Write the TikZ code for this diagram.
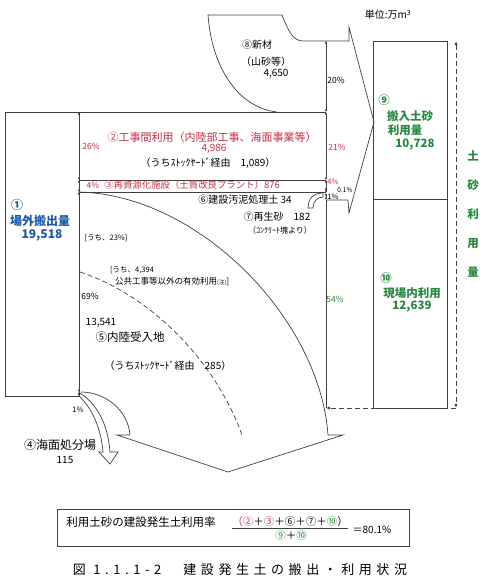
\documentclass[tikz,border=0pt]{standalone}
\usepackage{fontspec}
\setmainfont{Noto Sans CJK JP}
\newfontfamily\capfont[LetterSpace=35]{Noto Sans CJK JP}
\usetikzlibrary{arrows.meta, positioning}
\definecolor{jred}{RGB}{196,48,72}
\definecolor{jblue}{RGB}{28,88,168}
\definecolor{jgreen}{RGB}{38,136,62}

\begin{document}
\begin{tikzpicture}[
  x=1pt, y=-1pt,
  every node/.style={inner sep=0pt, font=\fontsize{10}{12}\selectfont},
  line/.style={draw=black!75, line width=0.7pt},
  dashline/.style={line, dash pattern=on 5pt off 3pt},
  dim/.style={{Latex[length=2.5pt,width=2.6pt]}-{Latex[length=2.5pt,width=2.6pt]}, line width=0.6pt, draw=black!75},
  dasharrow/.style={dashline, -{Latex[length=4pt,width=3pt]}},
  body/.style={font=\fontsize{10}{12}\selectfont},
  head/.style={font=\fontsize{11.5}{13}\selectfont},
  note/.style={font=\fontsize{7.5}{9}\selectfont},
  pct/.style={font=\fontsize{8.5}{10}\selectfont},
  redtext/.style={text=jred},
  bluehead/.style={text=jblue, font=\fontsize{12}{14}\selectfont\bfseries},
  greenhead/.style={text=jgreen, font=\fontsize{11.5}{13}\selectfont\bfseries}
]
\useasboundingbox (0,0) rectangle (487,581);

% === DIMENSION POINTS ===
\coordinate (L0) at (79,112);
\coordinate (L1) at (79,180);
\coordinate (L2) at (79,192);
\coordinate (L3) at (79,392);
\coordinate (L4) at (79,396);
\coordinate (R0) at (326,41);
\coordinate (R1) at (326,112);
\coordinate (R2) at (326,180);
\coordinate (R3) at (326,191);
\coordinate (R4) at (326,193);
\coordinate (R5) at (326,200);
\coordinate (R6) at (326,408);
\coordinate (T0) at (456,41);
\coordinate (T1) at (456,408);

% === SHAPES ===
% left box and bands
\draw[line] (5,112) rectangle (79,396);
\draw[line] (L0) -- (R1);
\draw[line] (L1) -- (R2);
\draw[line] (L2) -- (326,192);

% new material + big arrow into 9
\draw[line] (277,112) .. controls (240,108) and (212,70) .. (208,15) -- (282,15)
  .. controls (290,35) and (294,41) .. (304,41) -- (349,41) -- (349,27) -- (374,122)
  -- (349,213) -- (348,200) -- (R5);

% inland disposal arrow
\draw[line] (L2) .. controls (200,195) and (320,320) .. (328,435) -- (343,435) -- (228,472)
  -- (117,435) -- (130,435) .. controls (128,410) and (105,392) .. (81,392);
\draw[dashline] (80,272) .. controls (150,295) and (215,360) .. (242,435);

% sea disposal arrow
\draw[line] (80,393) .. controls (98,405) and (108,425) .. (110,452) -- (118,452) -- (110,464)
  -- (99,452) -- (103,452) .. controls (101,428) and (92,408) .. (79,396);

% sludge / recycled sand
\draw[line] (308,208) .. controls (308,198) and (314,193) .. (323,193) -- (323,197)
  .. controls (318,197) and (313,201) .. (313,208) -- cycle;

% boxes 9 and 10
\draw[line] (373,41) rectangle (447,408);
\draw[line] (373,199) -- (447,199);

% === DIMENSION LINES ===
\draw[dim] (L0) -- (L1);
\draw[dim] (L1) -- (L2);
\draw[dim] (L2) -- (L3);
\draw[dim] (L3) -- (L4);
\draw[dim] (R0) -- (R1);
\draw[dim] (R1) -- (R2);
\draw[dim] (R2) -- (R3);
\draw[dim] (R3) -- (R4);
\draw[dim] (R4) -- (R5);
\draw[line] (R5) -- (R6);
\draw[dashline, {Latex[length=4pt,width=3pt]}-{Latex[length=4pt,width=3pt]}] (T0) -- (T1);
\draw[dasharrow] (T1) -- (R6);

% === LABELS ===
\node (unit) at (388,15) {単位:万m\textsuperscript{3}};

\node[body] (n8) at (257,45) {⑧新材};
\node[body] (n8a) at (266,62) {（山砂等）};
\node[body] (n8v) at (276,74) {4,650};

\node[redtext, font=\fontsize{11}{13}\selectfont] (n2) at (212,137) {②工事間利用（内陸部工事、海面事業等）};
\node[redtext, body] (n2v) at (214,149) {4,986};
\node[body] (n2s) at (208,163) {（うちｽﾄｯｸﾔｰﾄﾞ経由　1,089）};
\node[redtext, pct] (p26) at (91,146) {26\%};

\node[redtext, pct] (p4a) at (93,185) {4\%};
\node[redtext, font=\fontsize{9.4}{11}\selectfont] (n3) at (192,185) {③再資源化施設（土質改良プラント）876};

\node[body] (n6) at (245,200) {⑥建設汚泥処理土 34};
\node[body] (n7) at (277,217) {⑦再生砂　182};
\node[font=\fontsize{8}{9}\selectfont] (n7s) at (280,230) {（ｺﾝｸﾘｰﾄ塊より）};

\node[bluehead] (n1) at (17,205) {①};
\node[bluehead] (n1a) at (40,221) {場外搬出量};
\node[bluehead] (n1v) at (42,235) {19,518};

\node[note] (u23) at (106,238) {[うち、23\%]};
\node[note, anchor=west] (u4394) at (110,270) {[うち、4,394};
\node[font=\fontsize{8.5}{10}\selectfont, anchor=west] (u4394s) at (115,282) {公共工事等以外の有効利用{\fontsize{5.5}{6}\selectfont(注)}]};

\node[pct] (p69) at (90,296) {69\%};
\node[body] (n5v) at (101,323) {13,541};
\node[head] (n5) at (130,337) {⑤内陸受入地};
\node[body] (n5s) at (168,366) {（うちｽﾄｯｸﾔｰﾄﾞ経由　285）};

\node[note] (p1a) at (78,410) {1\%};
\node[font=\fontsize{12}{14}\selectfont] (n4) at (60,445) {④海面処分場};
\node[body] (n4v) at (65,460) {115};

\node[pct] (p20) at (336,80) {20\%};
\node[redtext, pct] (p21) at (337,147) {21\%};
\node[redtext, note] (p4b) at (333,182) {4\%};
\node[font=\fontsize{6.5}{7}\selectfont] (p01) at (345,190) {0.1\%};
\node[note] (p1b) at (333,197) {1\%};
\node[text=jgreen, pct] (p54) at (335,299) {54\%};

\node[greenhead] (n9) at (384,100) {⑨};
\node[greenhead] (n9a) at (410,116) {搬入土砂};
\node[greenhead] (n9b) at (405,130) {利用量};
\node[greenhead] (n9v) at (415,145) {10,728};

\node[greenhead] (n10) at (386,278) {⑩};
\node[greenhead] (n10a) at (412,293) {現場内利用};
\node[greenhead] (n10v) at (412,307) {12,639};

\node[greenhead, align=center, font=\fontsize{11.5}{29}\selectfont\bfseries] (nsum) at (473,214) {土\\砂\\利\\用\\量};

% === FORMULA ===
\draw[line] (57,509) rectangle (409,546);
\node[font=\fontsize{11.5}{13}\selectfont] (ftxt) at (141,522) {利用土砂の建設発生土利用率};
\node[font=\fontsize{10.5}{12}\selectfont] (fnum) at (290,522)
  {{\color{jred}（②}＋{\color{jred}③}＋⑥＋⑦＋{\color{jgreen}⑩}）};
\draw[line, line width=0.6pt] ([yshift=-1.5pt]fnum.south west) -- ([yshift=-1.5pt]fnum.south east);
\node[font=\fontsize{10.5}{12}\selectfont] (fden) at (291,536) {{\color{jgreen}⑨}＋{\color{jgreen}⑩}};
\node[body] (fres) at (372,530) {＝80.1\%};

% === CAPTION ===
\node[font=\capfont\fontsize{13}{15}\selectfont] (cap) at (240,570) {図 1.1.1-2　建設発生土の搬出・利用状況};

\end{tikzpicture}
\end{document}
